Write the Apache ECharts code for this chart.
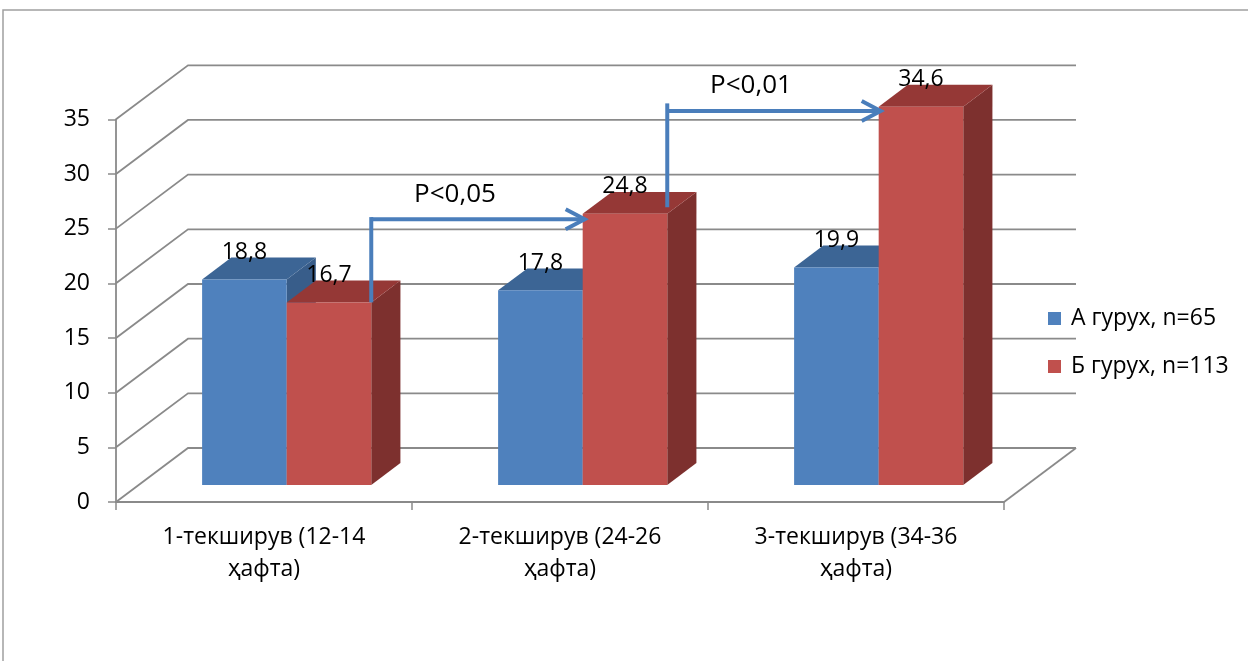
<!DOCTYPE html>
<html>
<head>
<meta charset="utf-8">
<script src="https://cdn.jsdelivr.net/npm/echarts/dist/echarts.min.js"></script>
<style>
  html, body { margin: 0; padding: 0; background: #ffffff; }
  #chart { width: 1248px; height: 661px; }
</style>
</head>
<body>
<div id="chart"></div>
<script>
// Examination rounds (category axis)
const categories = ['1-текширув (12-14\nҳафта)', '2-текширув (24-26\nҳафта)', '3-текширув (34-36\nҳафта)'];
// Series values
const groupA = [18.8, 17.8, 19.9];
const groupB = [16.7, 24.8, 34.6];
const seriesNames = ['А гурух, n=65', 'Б гурух, n=113'];
// Value axis ticks
const yTicks = [0, 5, 10, 15, 20, 25, 30, 35];
// Significance arrows between group B bars
const arrowFrom = [0, 1];
const arrowTo = [1, 2];
const arrowBase = [16.7, 25.4];
const arrowTop = [24.5, 34.9];
const arrowLevel = [24.3, 34.2];
const arrowText = ['P<0,05', 'P<0,01'];

// 3D look: depth of the plot box and where the bars sit inside it
const DX = 72, DY = 54;
const T_FRONT = 0.315, T_BACK = 0.72;
const FONT = "'Open Sans', 'Noto Sans', 'DejaVu Sans', sans-serif";
const GRID_COLOR = '#8a8a8a';
const ARROW_COLOR = '#4A7EBB';

const faceColors = [
  { front: '#4F81BD', top: '#3C6595', side: '#385D8A' },
  { front: '#C0504D', top: '#953836', side: '#7D302E' }
];

function fmt(v) { return String(v).replace('.', ','); }

function barGeom(api, cat, val, which) {
  const band = api.size([1, 0])[0];
  const bw = band / 3.5;
  const base = api.coord([cat, 0]);
  const top = api.coord([cat, val]);
  const fx = DX * T_FRONT, fy = DY * T_FRONT;
  const x0 = base[0] + (which === 0 ? -bw : 0) + fx;
  return { x0: x0, x1: x0 + bw, yb: base[1] - fy, yt: top[1] - fy, bw: bw };
}

function makeBarRender(which) {
  const c = faceColors[which];
  const ddx = DX * (T_BACK - T_FRONT), ddy = DY * (T_BACK - T_FRONT);
  return function (params, api) {
    const cat = api.value(0), val = api.value(1);
    const g = barGeom(api, cat, val, which);
    return {
      type: 'group',
      children: [
        { type: 'polygon', shape: { points: [[g.x1, g.yt], [g.x1 + ddx, g.yt - ddy], [g.x1 + ddx, g.yb - ddy], [g.x1, g.yb]] },
          style: { fill: c.side } },
        { type: 'polygon', shape: { points: [[g.x0, g.yt], [g.x1, g.yt], [g.x1 + ddx, g.yt - ddy], [g.x0 + ddx, g.yt - ddy]] },
          style: { fill: c.top } },
        { type: 'rect', shape: { x: g.x0, y: g.yt, width: g.bw, height: g.yb - g.yt },
          style: { fill: c.front } }
      ]
    };
  };
}

function makeLabelRender(which) {
  return function (params, api) {
    const cat = api.value(0), val = api.value(1);
    const g = barGeom(api, cat, val, which);
    return {
      type: 'text',
      style: { text: fmt(val), x: g.x0 + g.bw / 2, y: g.yt - 27, align: 'center', verticalAlign: 'middle',
        font: '23px ' + FONT, fill: '#000000' }
    };
  };
}

function wallRender(params, api) {
  const cs = params.coordSys;
  const L = cs.x, R = cs.x + cs.width;
  const children = [];
  yTicks.forEach(function (v) {
    const y = api.coord([0, v])[1];
    children.push({ type: 'polyline', shape: { points: [[L, y], [L + DX, y - DY], [R + DX, y - DY]] },
      style: { stroke: GRID_COLOR, lineWidth: 1.8, fill: null } });
  });
  const y0 = api.coord([0, 0])[1];
  children.push({ type: 'polyline', shape: { points: [[R, y0], [R + DX, y0 - DY]] },
    style: { stroke: GRID_COLOR, lineWidth: 1.8, fill: null } });
  return { type: 'group', children: children };
}

function arrowRender(params, api) {
  const i = params.dataIndex;
  const from = api.value(0), to = api.value(1);
  const src = barGeom(api, from, api.value(2), 1);
  const dst = barGeom(api, to, api.value(4), 1);
  const fy = DY * T_FRONT;
  const xs = src.x1;
  const xt = dst.x0 + 2;
  const yBase = src.yt;
  const yTop = api.coord([from, api.value(3)])[1] - fy;
  const yLev = dst.yt;
  const st = { stroke: ARROW_COLOR, lineWidth: 4, fill: null, lineJoin: 'miter' };
  return {
    type: 'group',
    children: [
      { type: 'polyline', shape: { points: [[xs, yBase], [xs, yTop]] }, style: st },
      { type: 'polyline', shape: { points: [[xs, yLev], [xt, yLev]] }, style: st },
      { type: 'polyline', shape: { points: [[xt - 19, yLev - 10], [xt, yLev], [xt - 19, yLev + 10]] }, style: st },
      { type: 'text', style: { text: arrowText[i], x: (xs + xt) / 2 - 23, y: yLev - 25, align: 'center',
        verticalAlign: 'middle', font: '26px ' + FONT, fill: '#000000' } }
    ]
  };
}

const dataA = groupA.map(function (v, i) { return [i, v]; });
const dataB = groupB.map(function (v, i) { return [i, v]; });
const arrowData = arrowFrom.map(function (f, i) { return [f, arrowTo[i], arrowBase[i], arrowTop[i], arrowLevel[i]]; });

const chart = echarts.init(document.getElementById('chart'), null, { renderer: 'canvas' });
chart.setOption({
  animation: false,
  backgroundColor: '#ffffff',
  grid: { left: 116, right: 244, top: 119.3, bottom: 159, containLabel: false, outerBoundsMode: 'none' },
  xAxis: {
    type: 'category', data: categories,
    axisLine: { show: true, lineStyle: { color: GRID_COLOR, width: 1.8 } },
    axisTick: { show: true, length: 8, alignWithLabel: false, lineStyle: { color: GRID_COLOR, width: 1.5 } },
    axisLabel: { interval: 0, margin: 19, color: '#000000', fontFamily: FONT, fontSize: 23, lineHeight: 32 },
    splitLine: { show: false }
  },
  yAxis: {
    type: 'value', min: 0, max: 35, interval: 5,
    axisLine: { show: true, lineStyle: { color: GRID_COLOR, width: 1.8 } },
    axisTick: { show: true, length: 8, lineStyle: { color: GRID_COLOR, width: 1.5 } },
    axisLabel: { margin: 26, color: '#000000', fontFamily: FONT, fontSize: 23 },
    splitLine: { show: false }
  },
  legend: {
    data: seriesNames, orient: 'vertical', left: 1043, top: 301.5,
    itemWidth: 13, itemHeight: 13, itemGap: 24, icon: 'rect',
    textStyle: { color: '#000000', fontFamily: FONT, fontSize: 23, lineHeight: 24, padding: [0, 0, 0, 5] }
  },
  graphic: [
    { type: 'polyline', shape: { points: [[3, 661], [3, 10], [1248, 10]] },
      style: { stroke: '#a0a0a0', lineWidth: 1.5, fill: null }, z: 0 }
  ],
  series: [
    { type: 'custom', name: 'walls', renderItem: wallRender, data: [[0, 0]], z: 1, silent: true,
      encode: { x: 0, y: 1 } },
    { type: 'custom', name: seriesNames[0], renderItem: makeBarRender(0), data: dataA, z: 2,
      itemStyle: { color: faceColors[0].front }, encode: { x: 0, y: 1 } },
    { type: 'custom', name: seriesNames[1], renderItem: makeBarRender(1), data: dataB, z: 3,
      itemStyle: { color: faceColors[1].front }, encode: { x: 0, y: 1 } },
    { type: 'custom', name: 'labelsA', renderItem: makeLabelRender(0), data: dataA, z: 5, silent: true,
      encode: { x: 0, y: 1 } },
    { type: 'custom', name: 'labelsB', renderItem: makeLabelRender(1), data: dataB, z: 5, silent: true,
      encode: { x: 0, y: 1 } },
    { type: 'custom', name: 'arrows', renderItem: arrowRender, data: arrowData, z: 6, silent: true,
      encode: { x: 0, y: 2 } }
  ]
});
</script>
</body>
</html>
